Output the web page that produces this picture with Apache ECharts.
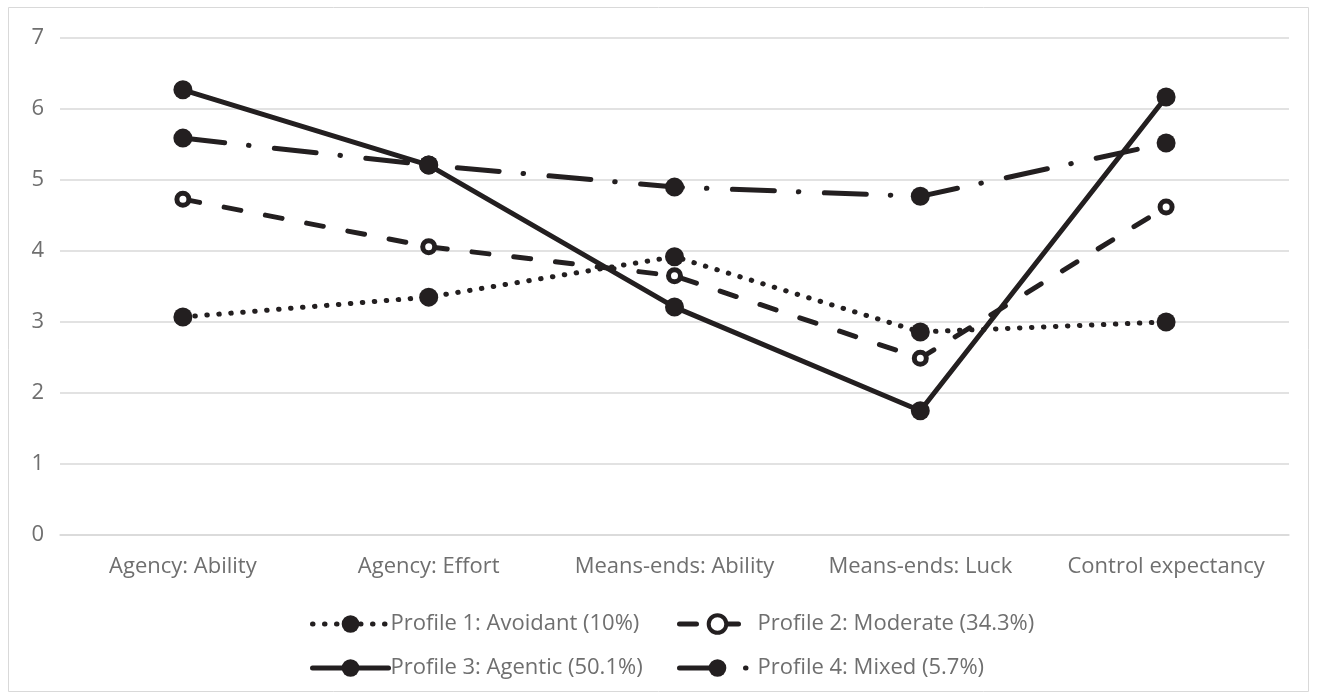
<!DOCTYPE html>
<html><head><meta charset="utf-8">
<script src="https://cdn.jsdelivr.net/npm/echarts@6/dist/echarts.min.js"></script>
<style>html,body{margin:0;padding:0;background:#fff}#c{width:1317px;height:700px}</style>
</head><body><div id="c"></div>
<script>
const categories = ['Agency: Ability','Agency: Effort','Means-ends: Ability','Means-ends: Luck','Control expectancy'];
const seriesNames = ['Profile 1: Avoidant (10%)','Profile 2: Moderate (34.3%)','Profile 3: Agentic (50.1%)','Profile 4: Mixed (5.7%)'];
const profile1 = [3.07, 3.35, 3.92, 2.86, 3.00];
const profile2 = [4.73, 4.06, 3.65, 2.49, 4.62];
const profile3 = [6.27, 5.21, 3.21, 1.75, 6.17];
const profile4 = [5.59, 5.21, 4.90, 4.77, 5.52];
const yTicks = [0,1,2,3,4,5,6,7];

const FONT = '"Open Sans", "Liberation Sans", sans-serif';
const INK = '#231f20';
const TXT = '#6f6f6f';
const dash = {
  p1: [0.5, 11.5],
  p2: [17, 25],
  p3: 'solid',
  p4: [42, 24, 0.5, 25.5]
};
function mk(name, data, type, hollow) {
  return {
    name, type: 'line', data,
    symbol: 'circle',
    symbolSize: hollow ? 12 : 19,
    showAllSymbol: true,
    lineStyle: { color: INK, width: 5, type: type, cap: 'round', join: 'round' },
    itemStyle: hollow ? { color: '#ffffff', borderColor: INK, borderWidth: 5 } : { color: INK, borderWidth: 0 },
    emphasis: { disabled: true },
    animation: false
  };
}
const legendBase = {
  orient: 'horizontal', itemWidth: 76, itemHeight: 22, itemGap: 0,
  textStyle: { color: TXT, fontSize: 22, fontFamily: FONT, padding: [0,0,0,-3] },
  lineStyle: { width: 5, cap: 'round' },
  selectedMode: false
};
function legendItem(i, hollow) {
  const d = { name: seriesNames[i] };
  if (hollow) d.itemStyle = { color: '#ffffff', borderColor: INK, borderWidth: 4 };
  return d;
}
const chart = echarts.init(document.getElementById('c'), null, { renderer: 'canvas' });
chart.setOption({
  animation: false,
  backgroundColor: '#fff',
  graphic: [{ type: 'rect', shape: { x: 8.5, y: 7.5, width: 1300, height: 684 }, style: { fill: 'none', stroke: '#d9d9d9', lineWidth: 1 }, silent: true }],
  grid: { left: 60, right: 28, top: 38, bottom: 165, containLabel: false },
  xAxis: {
    type: 'category', data: categories, boundaryGap: true,
    axisLine: { show: true, lineStyle: { color: '#d9d9d9', width: 1.5 } },
    axisTick: { show: false },
    axisLabel: { color: TXT, fontSize: 22, fontFamily: FONT, margin: 21, interval: 0, hideOverlap: false },
    splitLine: { show: false }
  },
  yAxis: {
    type: 'value', min: yTicks[0], max: yTicks[yTicks.length-1], interval: 1,
    axisLine: { show: false }, axisTick: { show: false },
    axisLabel: { color: TXT, fontSize: 22, fontFamily: FONT, margin: 16 },
    splitLine: { lineStyle: { color: '#d9d9d9', width: 1.5 } }
  },
  legend: [
    Object.assign({}, legendBase, { data: [legendItem(0)], left: 305, top: 608 }),
    Object.assign({}, legendBase, { data: [legendItem(1, true)], left: 672, top: 608 }),
    Object.assign({}, legendBase, { data: [legendItem(2)], left: 305, top: 652 }),
    Object.assign({}, legendBase, { data: [legendItem(3)], left: 672, top: 652 })
  ],
  series: [
    mk(seriesNames[0], profile1, dash.p1, false),
    mk(seriesNames[1], profile2, dash.p2, true),
    mk(seriesNames[2], profile3, dash.p3, false),
    mk(seriesNames[3], profile4, dash.p4, false)
  ]
});
</script></body></html>
